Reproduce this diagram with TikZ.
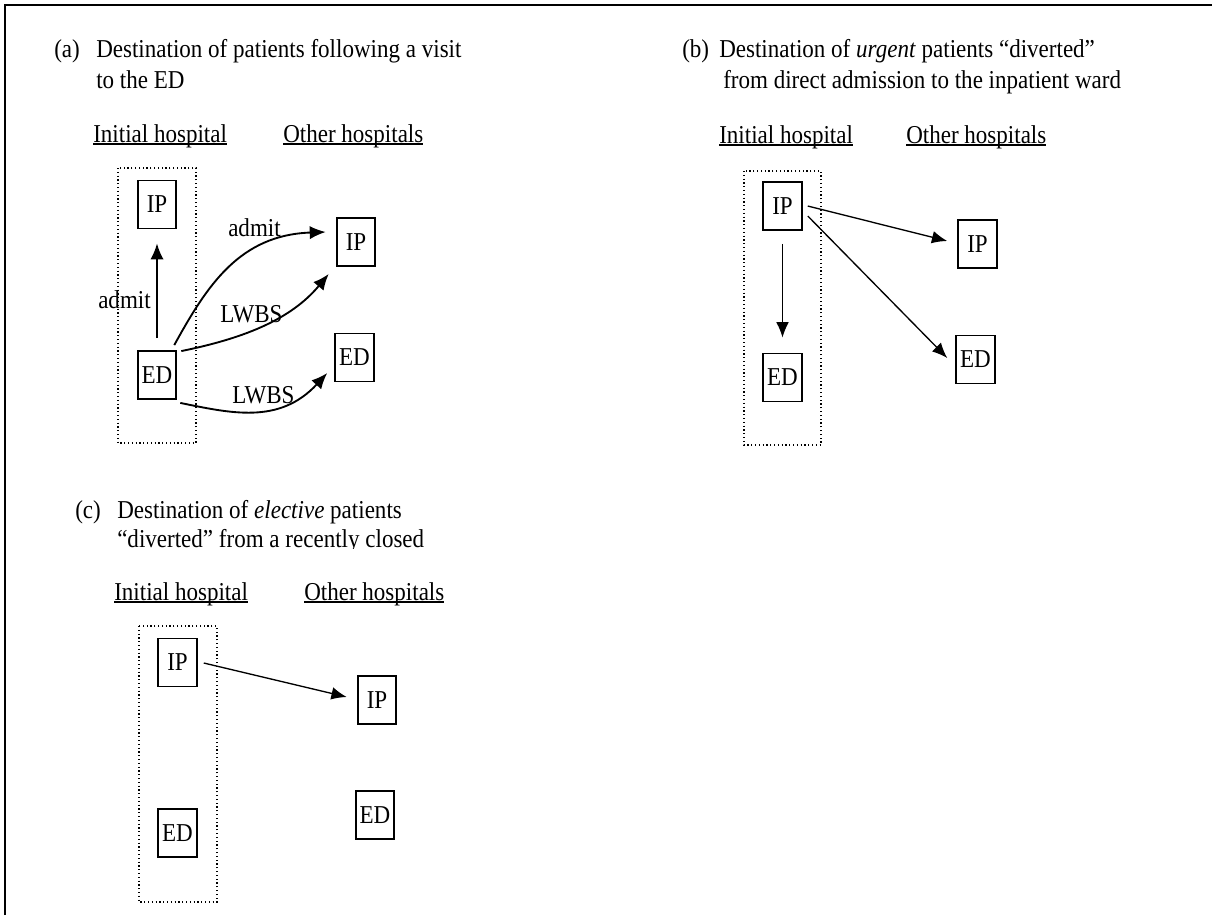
\documentclass[tikz,border=0pt]{standalone}
\usepackage{fontspec}
\setmainfont{Liberation Serif}[FakeStretch=0.895]
\usetikzlibrary{arrows.meta}
\newlength\myulw
\newcommand\wordul[1]{\settowidth\myulw{#1}\rlap{\rule[-2pt]{\myulw}{0.9pt}}#1}
\tikzset{
  txt/.style={anchor=base west, inner sep=0pt, font=\fontsize{19.3}{24}\selectfont},
  box/.style={draw, line width=1.4pt, minimum width=29pt, minimum height=36pt, inner sep=0pt, font=\fontsize{19.3}{24}\selectfont},
  hosp/.style={draw, dotted, line width=0.85pt},
  arrA/.style={line width=1.4pt, -{Latex[length=12pt,width=10pt]}},
  arrB/.style={line width=1pt, -{Latex[length=11.5pt,width=9.5pt]}},
  frame/.style={line width=1.6pt}
}
\begin{document}
\begin{tikzpicture}[x=0.75pt,y=-0.75pt]
\useasboundingbox (0,0) rectangle (1212,915);
% frame
\draw[frame] (5,915) -- (5,5) -- (1212,5);

% ---------------- (a)
\node[txt] (aL) at (54,57) {(a)};
\node[txt] (aT1) at (96,57) {Destination of patients following a visit};
\node[txt] (aT2) at (96,88) {to the ED};
\node[txt] (aH1) at (93,142) {\wordul{Initial hospital}};
\node[txt] (aH2) at (283,142) {\wordul{Other hospitals}};
\draw[hosp] (118,168) rectangle (196,443);
\node[box] (aIPi) at (157,204.5) {IP};
\node[box] (aEDi) at (157,375) {ED};
\node[box] (aIPo) at (356,242) {IP};
\node[box] (aEDo) at (354.5,357.5) {ED};
\draw[arrA, shorten <=9pt, shorten >=10.5pt] (aEDi.north) -- (aIPi.south);
\node[txt] (aAd1) at (98,308) {admit};
\draw[arrA] ([shift={(-3,-5)}]aEDi.north east) .. controls +(33,-60) and +(-86,3) .. ([shift={(-10,-10)}]aIPo.west);
\node[txt] (aAd2) at (228,236) {admit};
\draw[arrA] ([shift={(4,1)}]aEDi.north east) .. controls +(59,-12) and +(-39,47) .. ([shift={(-7,7)}]aIPo.south west);
\node[txt] (aLW1) at (220,322) {LWBS};
\draw[arrA] ([shift={(3,3)}]aEDi.south east) .. controls +(50,10) and +(-48,52) .. ([shift={(-7,15.5)}]aEDo.west);
\node[txt] (aLW2) at (232,403) {LWBS};

% ---------------- (b)
\node[txt] (bL) at (682,57) {(b)};
\node[txt] (bT1) at (719,57) {Destination of \textit{urgent} patients “diverted”};
\node[txt] (bT2) at (723,88) {from direct admission to the inpatient ward};
\node[txt] (bH1) at (719,143) {\wordul{Initial hospital}};
\node[txt] (bH2) at (906,143) {\wordul{Other hospitals}};
\draw[hosp] (744,171) rectangle (821,445);
\node[box] (bIPi) at (782.5,206) {IP};
\node[box] (bEDi) at (782.5,377.5) {ED};
\node[box] (bIPo) at (977.5,244) {IP};
\node[box] (bEDo) at (975.5,359.5) {ED};
\draw[arrB, shorten <=9.75pt, shorten >=11.25pt] (bIPi.south) -- (bEDi.north);
\draw[arrB] ([shift={(5,0)}]bIPi.east) -- ([shift={(-10,-3)}]bIPo.west);
\draw[arrB] ([shift={(5,10)}]bIPi.east) -- ([shift={(-8,-1.5)}]bEDo.west);

% ---------------- (c)
\node[txt] (cL) at (75,518) {(c)};
\node[txt] (cT1) at (117,518) {Destination of \textit{elective} patients};
\begin{scope}
\clip (100,525) rectangle (500,548.5);
\node[txt] (cT2) at (117,547) {“diverted” from a recently closed};
\end{scope}
\node[txt] (cH1) at (114,600) {\wordul{Initial hospital}};
\node[txt] (cH2) at (304,600) {\wordul{Other hospitals}};
\draw[hosp] (139,626) rectangle (217,902);
\node[box] (cIPi) at (177.5,662.5) {IP};
\node[box] (cEDi) at (177.5,833) {ED};
\node[box] (cIPo) at (377,700) {IP};
\node[box] (cEDo) at (375,815) {ED};
\draw[arrB] ([shift={(6,0.5)}]cIPi.east) -- ([shift={(-10,-3)}]cIPo.west);
\end{tikzpicture}
\end{document}
